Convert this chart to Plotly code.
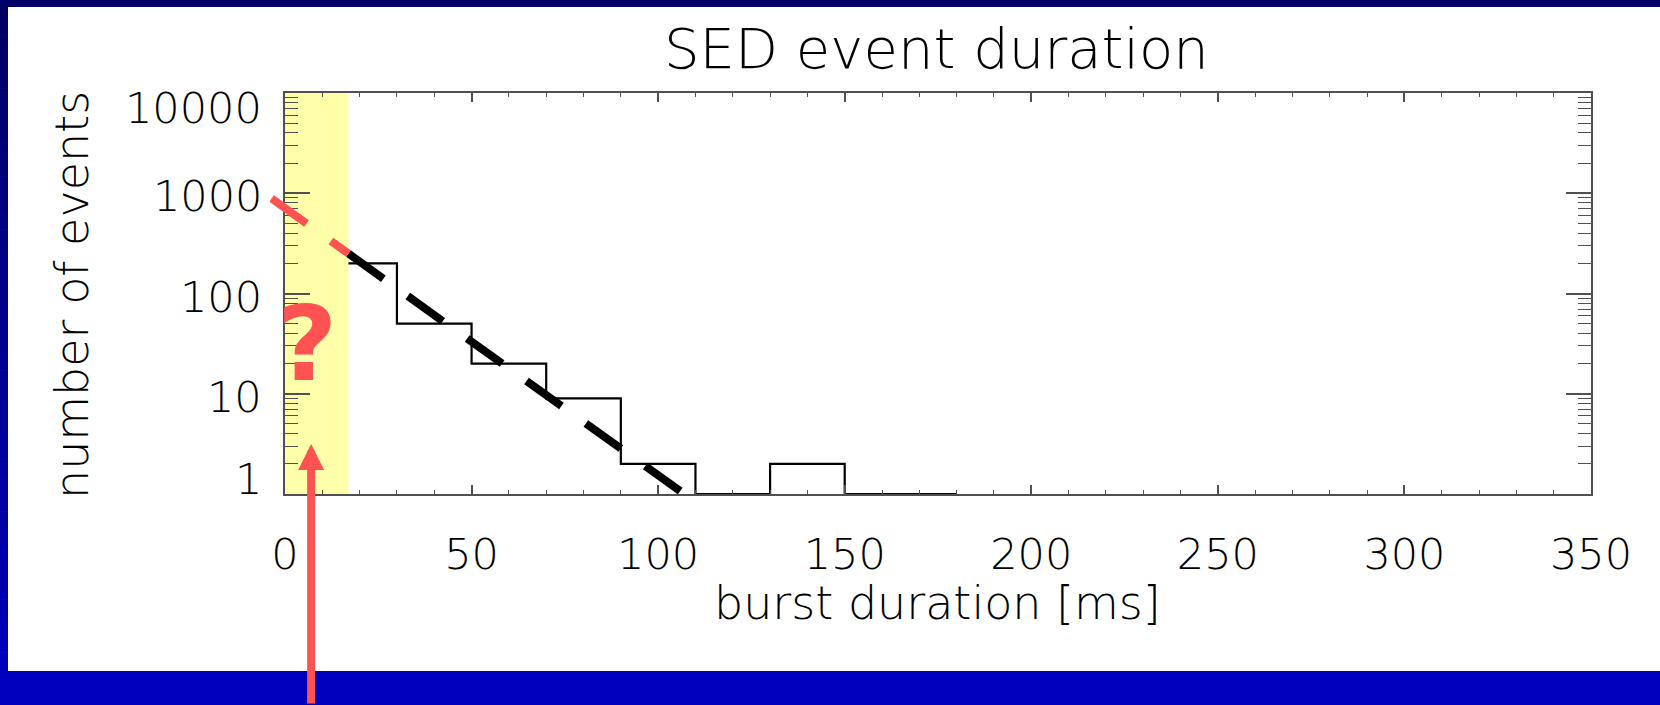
import math
import plotly.graph_objects as go

# ---------------- data ----------------
HIST_EDGES = [17, 30, 50, 70, 90, 110, 130, 150, 180]      # ms, bin edges
HIST_COUNTS = [200, 50, 20, 9, 2, 1, 2, 1]                 # events per bin
FIT_X = [-3.6, 17, 107]                                    # ms, exponential fit line
FIT_Y = [885, 250, 1]                                      # events
THRESHOLD_MS = 17                                          # shaded "?" region
X_TICKS = [0, 50, 100, 150, 200, 250, 300, 350]
Y_TICKS = [1, 10, 100, 1000, 10000]
Y_TICK_LABELS = ["1", "10", "100", "1000", "10000"]
Y_MINOR = [m * 10 ** k for k in range(4) for m in range(2, 10)]
ARROW_TIP = (7, 3.16)
QMARK_POS = (6, 31)

# ---------------- layout geometry ----------------
W, H = 1660, 705
PL, PR, PT, PB = 285, 1591, 93, 494
X_RANGE = [0, 350]
Y_LOG_RANGE = [0, 4]
X2_MIN = -4
FONT = "DejaVu Sans"
RED = "#FF5252"
AXC = "#505050"

xd0, xd1 = PL / W, PR / W
yd0, yd1 = 1 - PB / H, 1 - PT / H
x2d0 = xd0 - (X_RANGE[0] - X2_MIN) / (X_RANGE[1] - X_RANGE[0]) * (xd1 - xd0)


def px(x):
    return x / W


def py(y):
    return 1 - y / H


fig = go.Figure()

# yellow shaded region (below all other marks)
ylo, yhi = 10 ** Y_LOG_RANGE[0], 10 ** Y_LOG_RANGE[1]
fig.add_trace(go.Scatter(
    x=[0, THRESHOLD_MS, THRESHOLD_MS, 0, 0], y=[ylo, ylo, yhi, yhi, ylo],
    mode="lines", fill="toself", fillcolor="#FFFFAA", line=dict(width=0),
    xaxis="x", yaxis="y", hoverinfo="skip", showlegend=False))

# histogram (step)
fig.add_trace(go.Scatter(
    x=HIST_EDGES, y=HIST_COUNTS + [HIST_COUNTS[-1]],
    mode="lines", line=dict(shape="hv", color="black", width=2.2),
    xaxis="x", yaxis="y", hoverinfo="skip", showlegend=False))

# fit line: black part and red (extrapolated) part
fig.add_trace(go.Scatter(
    x=FIT_X[1:], y=FIT_Y[1:], mode="lines",
    line=dict(color="black", width=8, dash="43px,30px"),
    xaxis="x2", yaxis="y", hoverinfo="skip", showlegend=False))
fig.add_trace(go.Scatter(
    x=FIT_X[:2], y=FIT_Y[:2], mode="lines",
    line=dict(color=RED, width=8, dash="43px,30px"),
    xaxis="x2", yaxis="y", hoverinfo="skip", showlegend=False))

shapes = []
# blue slide frame
N = 40
for i in range(N):
    t = (i + 0.5) / N
    b = int(100 + (192 - 100) * t)
    shapes.append(dict(type="rect", xref="paper", yref="paper",
                       x0=0, x1=px(8), y0=py(H * i / N), y1=py(H * (i + 1) / N) - 0.001,
                       fillcolor=f"rgb(0,0,{b})", line=dict(width=0), layer="below"))
shapes.append(dict(type="rect", xref="paper", yref="paper", x0=0, x1=1, y0=py(7), y1=1,
                   fillcolor="rgb(0,0,104)", line=dict(width=0), layer="below"))
shapes.append(dict(type="rect", xref="paper", yref="paper", x0=0, x1=1, y0=0, y1=py(671),
                   fillcolor="rgb(0,0,190)", line=dict(width=0), layer="below"))

annotations = []
# title and axis titles
annotations.append(dict(text="SED event duration", xref="paper", yref="paper",
                        x=px(936), y=py(49), xanchor="center", yanchor="middle",
                        showarrow=False, font=dict(family=FONT, size=56, color="black", weight=200)))
annotations.append(dict(text="burst duration [ms]", xref="paper", yref="paper",
                        x=px(937), y=py(603), xanchor="center", yanchor="middle",
                        showarrow=False, font=dict(family=FONT, size=46, color="black", weight=200)))
annotations.append(dict(text="number of events", xref="paper", yref="paper",
                        x=px(72), y=py(295), xanchor="center", yanchor="middle", textangle=-90,
                        showarrow=False, font=dict(family=FONT, size=46, color="black", weight=200)))
# y tick labels
yshift = {1: 15, 10: -3, 100: -3, 1000: -3, 10000: -15}
for v, lab in zip(Y_TICKS, Y_TICK_LABELS):
    annotations.append(dict(text=lab, xref="paper", yref="y", x=px(264), y=math.log10(v),
                            xanchor="right", yanchor="middle", yshift=yshift[v],
                            showarrow=False, font=dict(family=FONT, size=43, color="black", weight=200)))
# question mark and arrow
annotations.append(dict(text="<b>?</b>", xref="x", yref="y", x=QMARK_POS[0], y=math.log10(QMARK_POS[1]),
                        xanchor="center", yanchor="middle", showarrow=False,
                        font=dict(family=FONT, size=104, color=RED)))
annotations.append(dict(text="", xref="x", yref="y", x=ARROW_TIP[0], y=math.log10(ARROW_TIP[1]),
                        ax=0, ay=H - PB + 50 + 20, showarrow=True, arrowhead=2, arrowsize=0.65,
                        arrowwidth=8, arrowcolor=RED, standoff=0))

axis_common = dict(showline=True, linecolor=AXC, linewidth=1.5, mirror="ticks",
                   ticks="inside", tickcolor=AXC, showgrid=False, zeroline=False)

fig.update_layout(
    width=W, height=H, margin=dict(l=0, r=0, t=0, b=0),
    paper_bgcolor="white", plot_bgcolor="rgba(0,0,0,0)",
    showlegend=False,
    xaxis=dict(domain=[xd0, xd1], range=X_RANGE, tickmode="array", tickvals=X_TICKS,
               ticktext=[str(v) for v in X_TICKS], ticklen=9, tickwidth=1.5,
               minor=dict(dtick=10, tick0=0, ticklen=4.5, tickwidth=1, tickcolor=AXC, ticks="inside"),
               tickfont=dict(family=FONT, size=43, color="black", weight=200),
               ticklabelstandoff=22, anchor="y", automargin=False, **axis_common),
    xaxis2=dict(domain=[x2d0, xd1], range=[X2_MIN, X_RANGE[1]], visible=False, anchor="y",
                showgrid=False, zeroline=False),
    yaxis=dict(domain=[yd0, yd1], type="log", range=Y_LOG_RANGE, tickmode="array", tickvals=Y_TICKS,
               showticklabels=False, ticklen=25, tickwidth=1.5,
               minor=dict(tickvals=Y_MINOR, ticklen=13, tickwidth=1, tickcolor=AXC, ticks="inside"),
               anchor="x", automargin=False, **axis_common),
    shapes=shapes, annotations=annotations,
)

fig.write_html("out.html")
